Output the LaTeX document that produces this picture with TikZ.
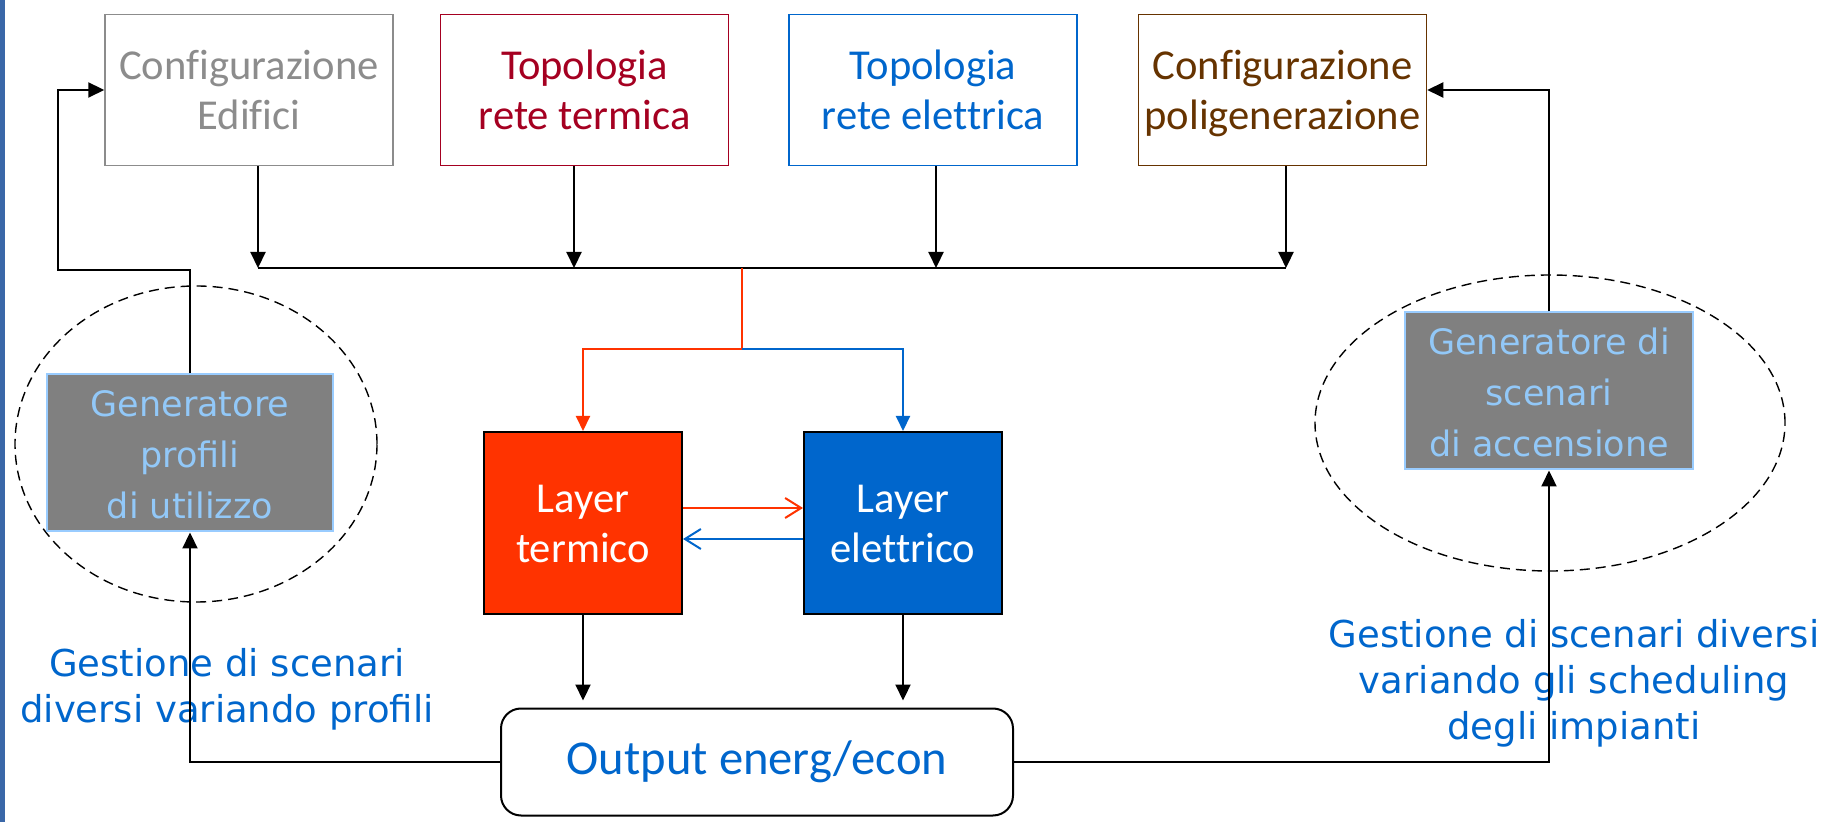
\documentclass[tikz,border=0pt]{standalone}
\usepackage{fontspec}
\setmainfont[Ligatures=NoCommon]{Carlito}
\newfontfamily\verdanafont{DejaVu Sans}
\usetikzlibrary{positioning,shapes.geometric,arrows.meta}

\begin{document}
\begin{tikzpicture}[x=0.5pt, y=-0.5pt]

      \definecolor{slideblue}{HTML}{3A67A8}
      \definecolor{edgray}{HTML}{8C8C8C}
      \definecolor{termred}{HTML}{A50021}
      \definecolor{elecblue}{HTML}{0066CC}
      \definecolor{polibrown}{HTML}{663300}
      \definecolor{layerred}{HTML}{FF3300}
      \definecolor{layerblue}{HTML}{0066CC}
      \definecolor{genfill}{HTML}{808080}
      \definecolor{genborder}{HTML}{99CCFF}
      \definecolor{gentext}{HTML}{92C8F8}

      \tikzstyle{block}      = [rectangle, line width=0.75pt, minimum width=144pt, minimum height=75.5pt, inner sep=1pt]
      \tikzstyle{layerblock} = [rectangle, draw=black, line width=1pt, minimum width=99pt, minimum height=91pt, text=white, inner sep=1pt]
      \tikzstyle{genblock}   = [rectangle, draw=genborder, line width=1pt, fill=genfill, text=gentext, inner sep=1pt]
      \tikzstyle{ring}       = [ellipse, draw, line width=0.7pt, dash pattern=on 5pt off 3pt, inner sep=0pt]

      \tikzstyle{connector} = [line width=1.1pt, -{Triangle[width=7.5pt, length=8pt]}]
      \tikzstyle{busline}   = [line width=1.1pt]
      \tikzstyle{redconn}   = [line width=1pt, draw=layerred, -{Triangle[width=7pt, length=7.5pt]}]
      \tikzstyle{blueconn}  = [line width=1pt, draw=layerblue, -{Triangle[width=7pt, length=7.5pt]}]
      \tikzstyle{redlink}   = [line width=1pt, draw=layerred, -{Straight Barb[width=10pt, length=8pt]}]
      \tikzstyle{bluelink}  = [line width=1pt, draw=layerblue, -{Straight Barb[width=10pt, length=8pt]}]

      \newcommand{\firstsep}[0]{23pt}
      \newcommand{\nodesep}[0]{29.5pt}
      \newcommand{\layersep}[0]{60pt}

      \newcommand{\nodename}[1]{\fontsize{21.3pt}{25pt}\selectfont \raisebox{-2.5pt}[\height][\depth]{\begin{tabular}{@{}c@{}}#1\end{tabular}}}
      \newcommand{\genname}[1]{\verdanafont\fontsize{17.5pt}{25.5pt}\selectfont \raisebox{-2pt}[\height][\depth]{\begin{tabular}{@{}c@{}}#1\end{tabular}}}
      \newcommand{\nodedesc}[1]{\verdanafont\fontsize{18.5pt}{23pt}\selectfont \begin{tabular}{@{}c@{}}#1\end{tabular}}

      \useasboundingbox (0,0) rectangle (1835,822);
      \fill [slideblue] (0,0) rectangle (5,822);

      % dashed rings round the generators
      \node [ring, minimum width=181pt, minimum height=158pt] (profiliring)  at (196,444)  {};
      \node [ring, minimum width=235pt, minimum height=148pt] (scenariring)  at (1550,423) {};

      \node [block, draw = edgray,    text = edgray]                                   (edifici)   at (249,90) {\nodename{Configurazione\\Edifici}};
      \node [block, draw = termred,   text = termred,   right = \firstsep of edifici]  (termica)                {\nodename{Topologia\\rete termica}};
      \node [block, draw = elecblue,  text = elecblue,  right = \nodesep of termica]   (elettrica)              {\nodename{Topologia\\rete elettrica}};
      \node [block, draw = polibrown, text = polibrown, right = 30pt of elettrica]     (poligen)                {\nodename{Configurazione\\poligenerazione}};

      \node [layerblock, fill = layerred]                                (termico)   at (583,523) {\nodename{Layer\\termico}};
      \node [layerblock, fill = layerblue, right = \layersep of termico] (elettrico)              {\nodename{Layer\\elettrico}};

      \node [rectangle, rounded corners=10pt, draw, line width=1pt, minimum width=256pt, minimum height=53.5pt, text=elecblue] (output) at (757,762) {\fontsize{24.3pt}{28pt}\selectfont Output energ/econ};

      \node [genblock, minimum width=143pt, minimum height=76pt] (profili) at (190,453)  {\genname{Generatore\\profili\\di utilizzo}};
      \node [genblock, minimum width=144pt, minimum height=75pt] (scenari) at (1549,391) {\genname{Generatore di\\scenari\\di accensione}};

      \node [text=elecblue] (profilidesc) at (227,690)  {\nodedesc{Gestione di scenari\\diversi variando profili}};
      \node [text=elecblue] (scenaridesc) at (1574,684) {\nodedesc{Gestione di scenari diversi\\variando gli scheduling\\degli impianti}};

      \coordinate (busL)  at (258,268);
      \coordinate (busT)  at (574,268);
      \coordinate (busC)  at (742,268);
      \coordinate (busE)  at (936,268);
      \coordinate (busR)  at (1286,268);
      \coordinate (split) at (742,349);
      \coordinate (loopL) at (58,270);

      \draw [connector] (edifici.south -| busL)   -- (busL);
      \draw [connector] (termica.south -| busT)   -- (busT);
      \draw [connector] (elettrica.south -| busE) -- (busE);
      \draw [connector] (poligen.south -| busR)   -- (busR);
      \draw [busline]   (busL) -- (busR);

      \draw [redconn]  (busC) -- (split) -| (termico.north);
      \draw [blueconn] (split) -| (elettrico.north);
      \draw [redlink]  ([yshift=7.5pt]termico.east) -- ([yshift=7.5pt]elettrico.west);
      \draw [bluelink] ([yshift=-8pt]elettrico.west) -- ([yshift=-8pt]termico.east);

      \draw [connector] (termico.south)   -- ([yshift=3.5pt]termico.south |- output.north);
      \draw [connector] (elettrico.south) -- ([yshift=3.5pt]elettrico.south |- output.north);

      \draw [connector] (output.west) -| (profili.south);
      \draw [connector] (output.east) -| (scenari.south);
      \draw [connector] (profili.north) |- (loopL) |- (edifici.west);
      \draw [connector] (scenari.north) |- (poligen.east);

\end{tikzpicture}
\end{document}
